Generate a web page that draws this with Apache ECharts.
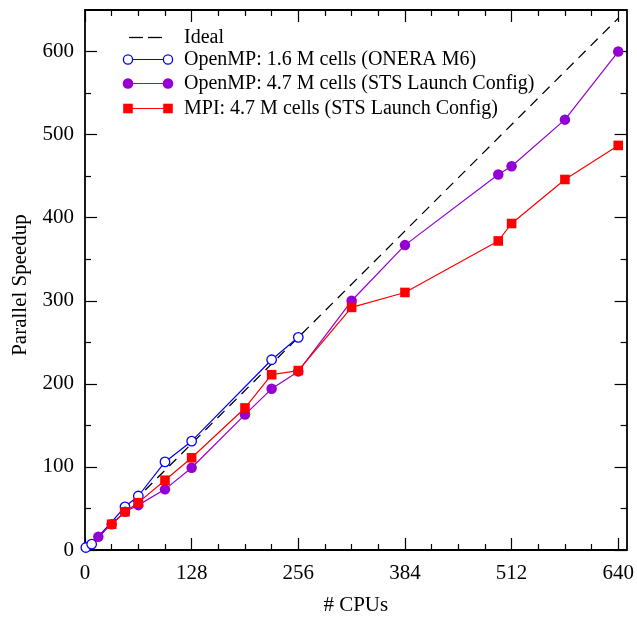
<!DOCTYPE html>
<html><head><meta charset="utf-8">
<script src="https://cdn.jsdelivr.net/npm/echarts@6/dist/echarts.min.js"></script>
<style>html,body{margin:0;padding:0;background:#fff}#c{width:637px;height:621px}</style>
</head><body><div id="c"></div>
<script>
// ---- data ----
const idealX = [0, 640];
const idealY = [0, 640];
const omp16X = [1, 8, 48, 64, 96, 128, 224, 256];
const omp16Y = [3, 7, 52, 65, 106, 131, 229, 256];
const omp47X = [16, 32, 48, 64, 96, 128, 192, 224, 256, 320, 384, 496, 512, 576, 640];
const omp47Y = [16, 31, 46, 54, 73, 99, 163, 194, 215, 300, 367, 452, 462, 518, 600];
const mpiX = [32, 48, 64, 96, 128, 192, 224, 256, 320, 384, 496, 512, 576, 640];
const mpiY = [31, 46, 57, 84, 111, 171, 211, 216, 292, 310, 372, 393, 446, 487];
const xMajor = [0, 128, 256, 384, 512, 640];
const xMinor = [32, 64, 96, 160, 192, 224, 288, 320, 352, 416, 448, 480, 544, 576, 608];
const yMajor = [0, 100, 200, 300, 400, 500, 600];
const yMinor = [50, 150, 250, 350, 450, 550];
const names = ['Ideal', 'OpenMP: 1.6 M cells (ONERA M6)', 'OpenMP: 4.7 M cells (STS Launch Config)', 'MPI: 4.7 M cells (STS Launch Config)'];
const xTitle = '# CPUs';
const yTitle = 'Parallel Speedup';

const FONT = 'Liberation Serif';
const pair = (xs, ys) => xs.map((x, i) => [x, ys[i]]);
const lineCol = '#000';
function xAx(pos, ticks, len, labels, line) {
  return {
    type: 'value', position: pos, min: 0, max: 650, gridIndex: 0,
    axisLine: {show: line, onZero: false, lineStyle: {color: lineCol, width: 1.8}},
    axisTick: {show: true, inside: true, length: len, customValues: ticks, lineStyle: {color: lineCol, width: 1.2}},
    axisLabel: labels ? {show: true, customValues: ticks, color: '#000', fontFamily: FONT, fontSize: 21, margin: 13} : {show: false},
    splitLine: {show: false},
    name: (labels ? xTitle : ''), nameLocation: 'middle', nameGap: 45,
    nameTextStyle: {color: '#000', fontFamily: FONT, fontSize: 21}
  };
}
function yAx(pos, ticks, len, labels, line) {
  return {
    type: 'value', position: pos, min: 0, max: 650, gridIndex: 0,
    axisLine: {show: line, onZero: false, lineStyle: {color: lineCol, width: 1.8}},
    axisTick: {show: true, inside: true, length: len, customValues: ticks, lineStyle: {color: lineCol, width: 1.2}},
    axisLabel: labels ? {show: true, customValues: ticks, color: '#000', fontFamily: FONT, fontSize: 21, margin: 11} : {show: false},
    splitLine: {show: false},
    name: (labels ? yTitle : ''), nameLocation: 'middle', nameGap: 54,
    nameTextStyle: {color: '#000', fontFamily: FONT, fontSize: 21, padding: [0, 10, 0, 0]}
  };
}

const chart = echarts.init(document.getElementById('c'), null, {renderer: 'canvas'});

// legend drawn as graphic elements
const LX0 = 128, LX1 = 168, TX = 184;
const rows = [37.5, 59.5, 83.5, 108.5];
const legendEls = [];
legendEls.push({type: 'line', shape: {x1: 129, y1: rows[0], x2: 143, y2: rows[0]}, style: {stroke: '#000', lineWidth: 1.3}});
legendEls.push({type: 'line', shape: {x1: 148, y1: rows[0], x2: 162, y2: rows[0]}, style: {stroke: '#000', lineWidth: 1.3}});
legendEls.push({type: 'line', shape: {x1: LX0, y1: rows[1], x2: LX1, y2: rows[1]}, style: {stroke: '#0000ff', lineWidth: 1.2}});
[LX0, LX1].forEach(x => legendEls.push({type: 'circle', shape: {cx: x, cy: rows[1], r: 4.6}, style: {fill: '#fff', stroke: '#0000ff', lineWidth: 1.3}}));
legendEls.push({type: 'line', shape: {x1: LX0, y1: rows[2], x2: LX1, y2: rows[2]}, style: {stroke: '#9400d3', lineWidth: 1.2}});
[LX0, LX1].forEach(x => legendEls.push({type: 'circle', shape: {cx: x, cy: rows[2], r: 5.3}, style: {fill: '#9400d3'}}));
legendEls.push({type: 'line', shape: {x1: LX0, y1: rows[3], x2: LX1, y2: rows[3]}, style: {stroke: '#ff0000', lineWidth: 1.2}});
[LX0, LX1].forEach(x => legendEls.push({type: 'rect', shape: {x: x - 4.8, y: rows[3] - 4.8, width: 9.6, height: 9.6}, style: {fill: '#ff0000'}}));
names.forEach((n, i) => legendEls.push({type: 'text', x: TX, y: rows[i], style: {text: n, fill: '#000', font: '20px "' + FONT + '"', verticalAlign: 'middle', align: 'left'}}));

chart.setOption({
  animation: false,
  backgroundColor: '#fff',
  grid: {left: 85, right: 9, top: 10, bottom: 68, containLabel: false},
  xAxis: [xAx('bottom', xMajor, 12, true, true), xAx('bottom', xMinor, 6, false, false),
          xAx('top', xMajor, 12, false, true), xAx('top', xMinor, 6, false, false)],
  yAxis: [yAx('left', yMajor, 12, true, true), yAx('left', yMinor, 6, false, false),
          yAx('right', yMajor, 12, false, true), yAx('right', yMinor, 6, false, false)],
  graphic: legendEls,
  series: [
    {name: names[0], type: 'line', data: pair(idealX, idealY), showSymbol: false, symbol: 'none',
     lineStyle: {color: '#000', width: 1.3, type: [10, 7]}, z: 1},
    {name: names[1], type: 'line', data: pair(omp16X, omp16Y), symbol: 'circle', symbolSize: 9.5,
     itemStyle: {color: '#fff', borderColor: '#0000ff', borderWidth: 1.3}, lineStyle: {color: '#0000ff', width: 1.2}, z: 2},
    {name: names[2], type: 'line', data: pair(omp47X, omp47Y), symbol: 'circle', symbolSize: 10.5,
     itemStyle: {color: '#9400d3'}, lineStyle: {color: '#9400d3', width: 1.2}, z: 3},
    {name: names[3], type: 'line', data: pair(mpiX, mpiY), symbol: 'rect', symbolSize: 9.6,
     itemStyle: {color: '#ff0000'}, lineStyle: {color: '#ff0000', width: 1.2}, z: 4}
  ]
});
</script></body></html>
